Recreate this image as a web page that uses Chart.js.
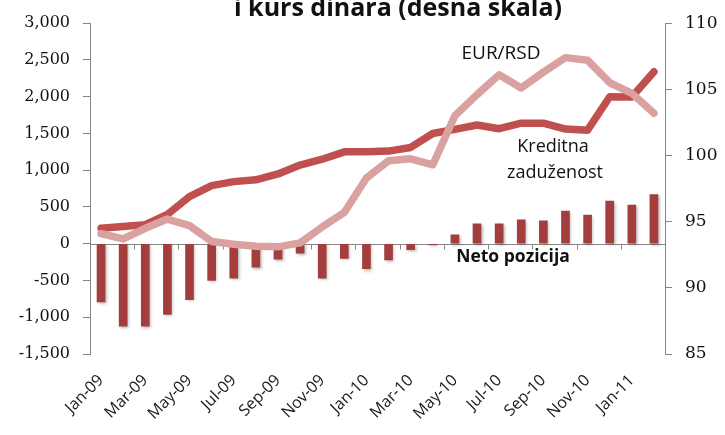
<!DOCTYPE html>
<html><head><meta charset="utf-8">
<script src="https://cdn.jsdelivr.net/npm/chart.js@4/dist/chart.umd.min.js"></script>
<style>html,body{margin:0;padding:0;background:#fff;}#wrap{width:725px;height:435px;position:relative;overflow:hidden;}</style>
</head><body><div id="wrap"><canvas id="c" width="725" height="435"></canvas></div>
<script>
const months = ["Jan-09","Feb-09","Mar-09","Apr-09","May-09","Jun-09","Jul-09","Aug-09","Sep-09","Oct-09","Nov-09","Dec-09",
  "Jan-10","Feb-10","Mar-10","Apr-10","May-10","Jun-10","Jul-10","Aug-10","Sep-10","Oct-10","Nov-10","Dec-10","Jan-11","Feb-11"];
const netoPozicija = [-790,-1120,-1120,-960,-760,-500,-470,-320,-210,-130,-470,-200,-340,-220,-80,-15,120,270,270,325,310,445,390,580,525,670];
const kreditnaZaduzenost = [210,235,260,400,640,790,845,870,950,1070,1150,1250,1250,1260,1310,1500,1555,1615,1565,1640,1640,1560,1545,2000,1995,2340];
const eurRsd = [94.1,93.7,94.5,95.2,94.7,93.5,93.3,93.15,93.1,93.4,94.6,95.7,98.3,99.6,99.75,99.3,103.0,104.6,106.1,105.1,106.3,107.4,107.2,105.5,104.7,103.2];
const leftAxis = {min:-1500, max:3000, step:500};
const rightAxis = {min:85, max:110, step:5};
const titleText = "i kurs dinara (desna skala)";
const labelTexts = {eur:"EUR/RSD", kred1:"Kreditna", kred2:"zaduženost", neto:"Neto pozicija"};

const AXIS = '#868686';
const zeroLine = {
  id:'zeroLine',
  beforeDatasetsDraw(chart){
    const {ctx, chartArea:a, scales:{x,y}} = chart;
    const y0 = Math.round(y.getPixelForValue(0)) + 0.5;
    ctx.save();
    ctx.strokeStyle = AXIS; ctx.lineWidth = 1;
    ctx.beginPath(); ctx.moveTo(a.left, y0); ctx.lineTo(a.right, y0);
    const half = (x.getPixelForValue(1) - x.getPixelForValue(0)) / 2;
    for (let i = 0; i <= months.length; i += 2) {
      const px = Math.round((i < months.length ? x.getPixelForValue(i) : x.getPixelForValue(i-1) + 2*half) - half) + 0.5;
      ctx.moveTo(px, y0); ctx.lineTo(px, y0 + 5);
    }
    ctx.stroke(); ctx.restore();
  }
};
const barShadow = {
  id:'barShadow',
  beforeDatasetDraw(chart, args){
    if (args.index === 0) { const c = chart.ctx; c.save(); c.shadowColor='rgba(0,0,0,0.28)'; c.shadowBlur=3; c.shadowOffsetX=1.5; c.shadowOffsetY=1.5; }
  },
  afterDatasetDraw(chart, args){ if (args.index === 0) chart.ctx.restore(); }
};
const texts = {
  id:'texts',
  afterDraw(chart){
    const ctx = chart.ctx;
    ctx.save();
    ctx.fillStyle = '#111';
    ctx.textAlign = 'center';
    ctx.textBaseline = 'alphabetic';
    ctx.font = 'bold 25px "Open Sans"';
    ctx.fillText(titleText, 398, 16);
    ctx.textBaseline = 'middle';
    ctx.font = '19px "Open Sans"';
    ctx.fillText(labelTexts.eur, 501, 54);
    ctx.font = '18px "Open Sans"';
    ctx.fillText(labelTexts.kred1, 553, 147);
    ctx.fillText(labelTexts.kred2, 555, 173);
    ctx.font = 'bold 17.5px "Open Sans"';
    ctx.fillText(labelTexts.neto, 513, 257);
    ctx.restore();
  }
};

new Chart(document.getElementById('c'), {
  data: {
    labels: months,
    datasets: [
      {type:'bar', label:'Neto pozicija', data:netoPozicija, backgroundColor:'#A33E3D', barThickness:8, yAxisID:'y', order:3},
      {type:'line', label:'Kreditna zaduženost', data:kreditnaZaduzenost, borderColor:'#C0504D', borderWidth:7.5, pointRadius:0, tension:0, borderJoinStyle:'round', borderCapStyle:'round', yAxisID:'y', order:2},
      {type:'line', label:'EUR/RSD', data:eurRsd, borderColor:'#D9A19F', borderWidth:7.5, pointRadius:0, tension:0, borderJoinStyle:'round', borderCapStyle:'round', yAxisID:'y1', order:1}
    ]
  },
  options: {
    responsive:false, animation:false, devicePixelRatio:1,
    layout:{padding:{top:20,left:0,right:0,bottom:0}},
    plugins:{legend:{display:false}, tooltip:{enabled:false}, title:{display:false}},
    scales:{
      x:{type:'category', offset:true, grid:{display:false}, border:{display:false},
         ticks:{autoSkip:false, maxRotation:45, minRotation:45, color:'#1a1a1a', padding:9,
           font:{family:'"Open Sans"', size:16},
           callback:(v,i)=> i%2===0 ? months[i] : ''},
         afterFit:s=>{s.height=81;}},
      y:{position:'left', min:leftAxis.min, max:leftAxis.max,
         ticks:{stepSize:leftAxis.step, color:'#111', padding:13, font:{family:'"DejaVu Serif"', size:16},
           callback:v=>Number(v).toLocaleString('en-US')},
         grid:{drawOnChartArea:false, drawTicks:true, tickLength:7, color:AXIS},
         border:{color:AXIS},
         afterFit:s=>{s.width=90;}},
      y1:{position:'right', min:rightAxis.min, max:rightAxis.max,
         ticks:{stepSize:rightAxis.step, color:'#111', padding:13, font:{family:'"DejaVu Serif"', size:17}},
         grid:{drawOnChartArea:false, drawTicks:true, tickLength:7, color:AXIS},
         border:{color:AXIS},
         afterFit:s=>{s.width=60;}}
    }
  },
  plugins:[zeroLine, barShadow, texts]
});
</script></body></html>
